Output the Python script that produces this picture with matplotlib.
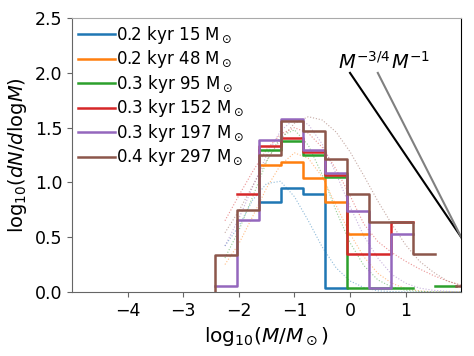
import numpy as np
import matplotlib
matplotlib.use("Agg")
import matplotlib.pyplot as plt

# bin edges of the mass functions, log10(M/Msun)
bin_edges = [-2.825, -2.43, -2.035, -1.64, -1.245, -0.85, -0.455, -0.06,
             0.335, 0.73, 1.125, 1.52, 1.915, 2.31]

labels = ['0.2 kyr 15 M$_\\odot$', '0.2 kyr 48 M$_\\odot$',
          '0.3 kyr 95 M$_\\odot$', '0.3 kyr 152 M$_\\odot$',
          '0.3 kyr 197 M$_\\odot$', '0.4 kyr 297 M$_\\odot$']
colors = ['tab:blue', 'tab:orange', 'tab:green', 'tab:red', 'tab:purple',
          'tab:brown']

nan = np.nan
# log10(dN/dlogM) per bin (first bin of the last run lies below the axis)
hist_15 = [nan, nan, nan, 0.82, 0.95, 0.89, 0.04, nan, nan, nan, nan, nan, nan]
hist_48 = [nan, nan, nan, 1.16, 1.19, 1.04, 0.82, 0.53, nan, nan, nan, nan, nan]
hist_95 = [nan, nan, nan, 1.30, 1.38, 1.25, 1.05, 0.04, 0.04, 0.04, nan, 0.05, nan]
hist_152 = [nan, nan, 0.89, 1.33, 1.41, 1.28, 1.07, 0.35, 0.35, 0.64, nan, nan, nan]
hist_197 = [nan, 0.05, 0.66, 1.39, 1.58, 1.30, 1.09, 0.74, 0.04, 0.53, nan, nan, nan]
hist_297 = [-0.1, 0.34, 0.75, 1.25, 1.56, 1.47, 1.21, 0.89, 0.64, 0.64, 0.35, nan, 0.05]
hists = [hist_15, hist_48, hist_95, hist_152, hist_197, hist_297]

fit_x = [-2.25, -2.0, -1.75, -1.5, -1.25, -1.0, -0.75, -0.5, -0.25, 0.0,
         0.25, 0.5, 0.75, 1.0, 1.25, 1.5, 1.75, 2.0]
fit_15 = [0.42, 0.60, 0.84, 0.99, 1.01, 0.87, 0.65, 0.41, 0.22, 0.10,
          0.04, 0.01, 0.003, 0.0, 0.0, 0.0, 0.0, 0.0]
fit_48 = [0.25, 0.44, 0.69, 0.95, 1.16, 1.27, 1.22, 1.05, 0.79, 0.53,
          0.32, 0.17, 0.08, 0.03, 0.01, 0.0, 0.0, 0.0]
fit_95 = [0.31, 0.56, 0.87, 1.19, 1.42, 1.48, 1.34, 1.07, 0.74, 0.45,
          0.24, 0.11, 0.045, 0.015, 0.005, 0.0, 0.0, 0.0]
fit_152 = [0.65, 0.88, 1.10, 1.30, 1.44, 1.50, 1.45, 1.32, 1.12, 0.88,
           0.62, 0.46, 0.36, 0.28, 0.21, 0.15, 0.10, 0.06]
fit_197 = [0.42, 0.67, 0.96, 1.25, 1.47, 1.58, 1.53, 1.35, 1.08, 0.78,
           0.51, 0.31, 0.16, 0.08, 0.035, 0.015, 0.005, 0.0]
fit_297 = [0.54, 0.74, 0.97, 1.20, 1.39, 1.54, 1.60, 1.57, 1.46, 1.28,
           1.06, 0.83, 0.62, 0.43, 0.28, 0.18, 0.10, 0.06]
fits = [fit_15, fit_48, fit_95, fit_152, fit_197, fit_297]

# reference power-law slopes
slope_34_x = [0.0, 2.0]
slope_34_y = [2.0, 0.5]
slope_1_x = [0.5, 2.0]
slope_1_y = [2.0, 0.5]

fig = plt.figure(figsize=(4.74, 3.56), dpi=100)
ax = fig.add_axes([0.152, 0.180, 0.821, 0.769])

for fit, c in zip(fits, colors):
    ax.plot(fit_x, fit, ':', color=c, lw=0.8, alpha=0.5)

for h, c, lab in zip(hists, colors, labels):
    ax.step(bin_edges, h + [nan], where='post', color=c, lw=1.8, label=lab)

ax.plot(slope_34_x, slope_34_y, color='k', lw=1.5)
ax.plot(slope_1_x, slope_1_y, color='grey', lw=1.5)
ax.text(0.26, 2.0, '$M^{-3/4}$', fontsize=14, ha='center', va='bottom')
ax.text(1.08, 2.0, '$M^{-1}$', fontsize=14, ha='center', va='bottom')

ax.set_xlim(-5, 2)
ax.set_ylim(0, 2.5)
ax.set_xticks([-4, -3, -2, -1, 0, 1])
ax.set_yticks([0.0, 0.5, 1.0, 1.5, 2.0, 2.5])
ax.set_yticklabels(['0.0', '0.5', '1.0', '1.5', '2.0', '2.5'])
ax.tick_params(labelsize=12.5, color='#666666')
ax.set_xlabel('log$_{10}$($M/M_\\odot$)', fontsize=14.5)
ax.set_ylabel('log$_{10}$($dN/d$log$M$)', fontsize=14)

for side in ['left', 'bottom']:
    ax.spines[side].set_color('#666666')
ax.spines['top'].set_color('#aaaaaa')
ax.spines['right'].set_color('black')

ax.legend(loc='upper left', frameon=False, fontsize=12, handlelength=2.2,
          handletextpad=0.1, labelspacing=0.15, borderpad=0.25,
          borderaxespad=0.1)

fig.savefig('out.png', dpi=100)
